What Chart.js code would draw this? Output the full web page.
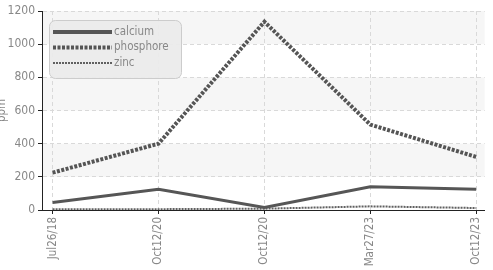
<!DOCTYPE html>
<html>
<head>
<meta charset="utf-8">
<script src="https://cdn.jsdelivr.net/npm/chart.js@4/dist/chart.umd.min.js"></script>
<style>
  html, body { margin: 0; padding: 0; background: #fff; }
  #wrap { position: relative; width: 493px; height: 270px; overflow: hidden; }
  #wrap canvas { position: absolute; left: -5px; top: 0; }
</style>
</head>
<body>
<div id="wrap"><canvas id="chart" width="498" height="270"></canvas></div>
<script>
const FONT = "'DejaVu Sans Condensed', 'DejaVu Sans', sans-serif";
const TEXT_COLOR = '#888888';

const categories = ['Jul26/18', 'Oct12/20', 'Oct12/20', 'Mar27/23', 'Oct12/23'];
const calcium = [45, 125, 15, 140, 125];
const phosphore = [225, 400, 1135, 515, 320];
const zinc = [5, 5, 8, 22, 12];
const yTicks = [0, 200, 400, 600, 800, 1000, 1200];

// index -> {x, y} so the linear x axis can place the categories
const toPoints = (arr) => arr.map((v, i) => ({ x: i, y: v }));

// alternating light bands behind the grid, like the source style
const bandsPlugin = {
  id: 'bands',
  beforeDraw(chart) {
    const { ctx, chartArea, scales } = chart;
    ctx.save();
    ctx.fillStyle = '#f6f6f6';
    for (let i = yTicks.length - 1; i > 0; i -= 2) {
      const top = scales.y.getPixelForValue(yTicks[i]);
      const bottom = scales.y.getPixelForValue(yTicks[i - 1]);
      ctx.fillRect(chartArea.left, top, chartArea.right - chartArea.left, bottom - top);
    }
    ctx.restore();
  },
};

// legend drawn inside the plot, top-left, with the real dash patterns
const insetLegendPlugin = {
  id: 'insetLegend',
  afterDatasetsDraw(chart) {
    const { ctx, chartArea } = chart;
    const x0 = chartArea.left + 7;
    const y0 = chartArea.top + 9;
    const rowH = 15.5;
    const lineLen = 59;
    const sets = chart.data.datasets;

    ctx.save();
    ctx.beginPath();
    ctx.roundRect(x0 + 0.5, y0 + 0.5, 132, 58, 6);
    ctx.fillStyle = 'rgba(235,235,235,0.95)';
    ctx.fill();
    ctx.strokeStyle = '#cccccc';
    ctx.lineWidth = 1;
    ctx.stroke();

    ctx.font = '11.5px ' + FONT;
    ctx.textBaseline = 'middle';
    sets.forEach((ds, i) => {
      const y = y0 + 12 + i * rowH;
      ctx.beginPath();
      ctx.setLineDash(ds.borderDash || []);
      ctx.lineWidth = ds.legendWidth;
      ctx.strokeStyle = ds.borderColor;
      ctx.moveTo(x0 + 4, y);
      ctx.lineTo(x0 + 4 + lineLen, y);
      ctx.stroke();
      ctx.setLineDash([]);
      ctx.fillStyle = TEXT_COLOR;
      ctx.fillText(ds.label, x0 + lineLen + 6, y);
    });
    ctx.restore();
  },
};

new Chart(document.getElementById('chart'), {
  type: 'line',
  data: {
    datasets: [
      {
        label: 'calcium',
        data: toPoints(calcium),
        borderColor: '#565656',
        borderWidth: 3,
        legendWidth: 4,
        pointRadius: 0,
      },
      {
        label: 'phosphore',
        data: toPoints(phosphore),
        borderColor: '#555555',
        borderWidth: 4,
        legendWidth: 4,
        borderDash: [3, 1.5],
        pointRadius: 0,
      },
      {
        label: 'zinc',
        data: toPoints(zinc),
        borderColor: '#606060',
        borderWidth: 2,
        legendWidth: 2,
        borderDash: [2, 1],
        pointRadius: 0,
      },
    ],
  },
  options: {
    responsive: false,
    animation: false,
    layout: { padding: { top: 11, right: 0, left: 0, bottom: 0 } },
    scales: {
      x: {
        type: 'linear',
        min: -0.1,
        max: 4.08,
        afterBuildTicks: (scale) => {
          scale.ticks = categories.map((c, i) => ({ value: i }));
        },
        afterFit: (scale) => { scale.height = 60; },
        ticks: {
          autoSkip: false,
          minRotation: 90,
          maxRotation: 90,
          padding: 3,
          color: TEXT_COLOR,
          font: { family: FONT, size: 11.5 },
          callback: (value) => categories[value] ?? '',
        },
        grid: {
          color: '#d9d9d9',
          tickColor: '#222',
          tickLength: 4,
        },
        border: { color: '#222', width: 1, dash: [4, 3] },
      },
      y: {
        min: 0,
        max: 1200,
        afterBuildTicks: (scale) => {
          scale.ticks = yTicks.map(v => ({ value: v }));
        },
        afterFit: (scale) => { scale.width = 47; },
        ticks: {
          padding: 3,
          color: TEXT_COLOR,
          font: { family: FONT, size: 12 },
          callback: (value) => String(value),
        },
        grid: {
          color: '#d9d9d9',
          tickColor: '#222',
          tickLength: 4,
        },
        border: { color: '#222', width: 1, dash: [4, 3] },
        title: {
          display: true,
          text: 'ppm',
          color: TEXT_COLOR,
          padding: 0,
          font: { family: FONT, size: 11.5 },
        },
      },
    },
    plugins: {
      tooltip: { enabled: false },
      legend: { display: false },
    },
  },
  plugins: [bandsPlugin, insetLegendPlugin],
});
</script>
</body>
</html>
